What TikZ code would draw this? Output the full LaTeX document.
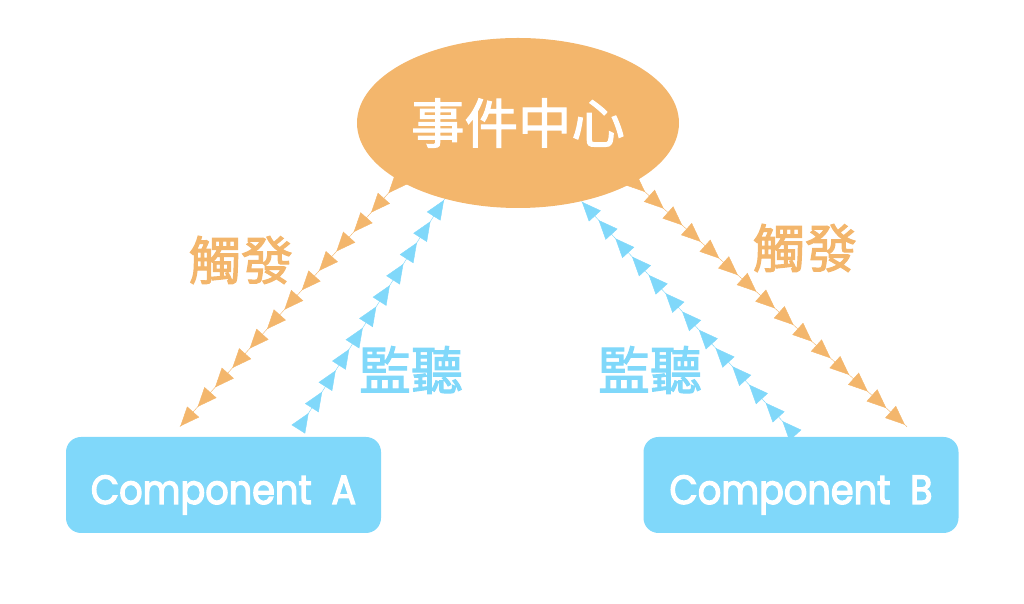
\documentclass[tikz,border=0pt]{standalone}
\usepackage{fontspec}
\setmainfont{Poppins}
\newfontfamily\cjkfont{Noto Sans CJK TC}[FakeBold=2]
\newfontfamily\compfont{Poppins}[FakeBold=3, FakeStretch=0.9]
\usepackage{tikz}
\usetikzlibrary{positioning,arrows.meta,shapes.geometric,decorations.markings,calc}
\definecolor{huborange}{RGB}{243,182,108}
\definecolor{boxblue}{RGB}{128,216,250}

\begin{document}
\begin{tikzpicture}[
    eventhub/.style={ellipse, fill=huborange, inner sep=0pt, minimum width=8.05cm, minimum height=4.25cm, text=white, font=\cjkfont\fontsize{38}{42}\selectfont},
    compbox/.style={rectangle, rounded corners=0.375cm, fill=boxblue, minimum width=7.875cm, minimum height=2.4cm, text height=0.95cm, text depth=0pt, text=white, font=\compfont\fontsize{29}{32}\selectfont},
    tipmarks/.style 2 args={postaction={decorate}, decoration={markings,
        mark=between positions #1 and 1 step #2 with {\arrow{Triangle[length=4.8mm, width=4mm]}}}},
    trigger/.style 2 args={draw=huborange!35, line width=0.3pt, color=huborange, tipmarks={#1}{#2}},
    listen/.style 2 args={draw=boxblue!15, line width=0.3pt, color=boxblue, tipmarks={#1}{#2}},
    triglabel/.style={text=huborange, font=\cjkfont\fontsize{37}{40}\selectfont},
    listlabel/.style={text=boxblue, font=\cjkfont\fontsize{37}{40}\selectfont}
]
\useasboundingbox (0,0) rectangle (25.6,15.1);

% Event hub and the two components
\node[eventhub] (hub) at (12.95, 12.025) {事件中心};
\node[compbox] (compA) at (5.5875, 2.975) {Component\ \ A};
\node[compbox] (compB) at (20.025, 2.975) {Component\ \ B};

% Trigger connectors (hub -> component)
\draw[trigger={0.05}{0.079}] (hub.206) -- ($(compA.north)+(-1.09,0.25)$);
\draw[trigger={0.04}{0.068}] (hub.333) -- ($(compB.north)+(2.65,0.25)$);

% Listen connectors (component -> hub)
\draw[listen={0.06}{0.0935}] ($(compA.north)+(1.91,0.25)$) -- (hub.226);
\draw[listen={0.05}{0.079}] ($(compB.north)+(-0.2,0.1)$) -- (hub.309);

% Labels
\node[triglabel] (trigA) at (6.025, 8.6) {觸發};
\node[triglabel] (trigB) at (20.125, 8.9) {觸發};
\node[listlabel] (listA) at (10.275, 5.85) {監聽};
\node[listlabel] (listB) at (16.25, 5.85) {監聽};

\end{tikzpicture}
\end{document}
